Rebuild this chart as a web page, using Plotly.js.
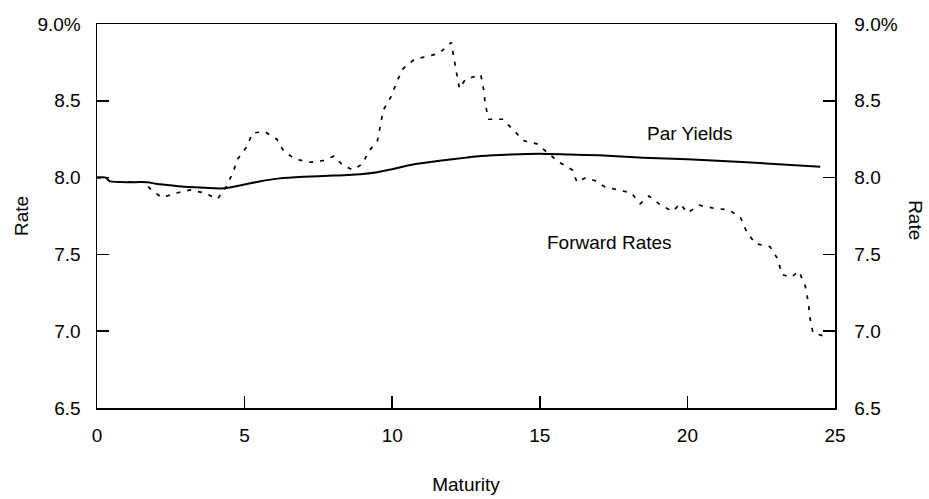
<!DOCTYPE html>
<html>
<head>
<meta charset="utf-8">
<script src="https://cdn.plot.ly/plotly-3.0.1.min.js"></script>
<style>
  html, body { margin: 0; padding: 0; background: #fff; }
  #chart { width: 929px; height: 499px; }
</style>
</head>
<body>
<div id="chart"></div>
<script>
// ---- Data ----
const parMaturity = [0, 0.3, 0.45, 1.7, 2.0, 2.5, 3.0, 3.5, 4.3, 5.0, 5.5, 6.2, 7.0, 8.0, 9.0, 9.5, 10.0, 10.7, 11.6, 12.5, 13.0, 14.0, 15.0, 16.0, 17.0, 18.5, 20.0, 22.0, 24.5];
const parYield    = [8.00, 8.00, 7.975, 7.97, 7.96, 7.95, 7.94, 7.935, 7.93, 7.955, 7.975, 7.995, 8.005, 8.013, 8.024, 8.035, 8.055, 8.085, 8.11, 8.13, 8.14, 8.15, 8.155, 8.15, 8.145, 8.13, 8.12, 8.10, 8.07];

const fwdMaturity = [0, 0.3, 0.45, 1.6, 1.84, 2.2, 2.7, 3.16, 3.64, 4.08, 4.35, 4.6, 4.76, 5.07, 5.27, 5.68, 6.09, 6.33, 6.73, 7.2, 7.65, 8.03, 8.33, 8.67, 9.0, 9.2, 9.5, 9.6, 9.7, 9.97, 10.17, 10.37, 10.75, 11.2, 11.6, 12.0, 12.07, 12.17, 12.28, 12.48, 13.0, 13.1, 13.16, 13.27, 13.74, 14.1, 14.46, 14.9, 15.27, 15.65, 16.1, 16.26, 16.56, 16.87, 17.2, 17.6, 18.1, 18.4, 18.7, 19.1, 19.5, 19.76, 20.0, 20.4, 20.9, 21.4, 21.8, 22.0, 22.3, 22.8, 23.06, 23.2, 23.5, 23.78, 24.0, 24.1, 24.15, 24.25, 24.6];
const fwdRate     = [8.00, 8.00, 7.97, 7.97, 7.92, 7.87, 7.90, 7.92, 7.90, 7.86, 7.93, 8.03, 8.12, 8.20, 8.29, 8.30, 8.25, 8.17, 8.12, 8.10, 8.11, 8.14, 8.08, 8.05, 8.09, 8.17, 8.24, 8.34, 8.44, 8.53, 8.63, 8.71, 8.77, 8.79, 8.81, 8.88, 8.79, 8.69, 8.58, 8.64, 8.67, 8.57, 8.47, 8.38, 8.38, 8.31, 8.24, 8.22, 8.16, 8.10, 8.05, 7.97, 8.00, 7.98, 7.94, 7.92, 7.90, 7.83, 7.88, 7.82, 7.78, 7.83, 7.77, 7.82, 7.80, 7.79, 7.74, 7.65, 7.57, 7.55, 7.47, 7.37, 7.35, 7.39, 7.29, 7.18, 7.09, 6.99, 6.97];

const xTickVals = [0, 5, 10, 15, 20, 25];
const xTickText = ["0", "5", "10", "15", "20", "25"];
const yTickVals = [6.5, 7.0, 7.5, 8.0, 8.5, 9.0];
const yTickText = ["6.5", "7.0", "7.5", "8.0", "8.5", "9.0%"];

const seriesLabels = ["Par Yields", "Forward Rates"];
const xTitle = "Maturity";
const yTitle = "Rate";

// ---- Chart ----
const FONT = "Liberation Sans, Arial, Helvetica, sans-serif";
const FS = 19;
const txt = { family: FONT, size: FS, color: "#000" };

const traces = [
  {
    x: fwdMaturity, y: fwdRate, type: "scatter", mode: "lines",
    name: seriesLabels[1],
    line: { color: "#000", width: 1.7, dash: "4px,7px" },
    xaxis: "x", yaxis: "y", hoverinfo: "skip"
  },
  {
    x: parMaturity, y: parYield, type: "scatter", mode: "lines",
    name: seriesLabels[0],
    line: { color: "#000", width: 2, shape: "spline", smoothing: 0.6 },
    xaxis: "x", yaxis: "y2", hoverinfo: "skip"
  }
];

const yCommon = {
  range: [6.5, 9.0], tickvals: yTickVals, ticktext: yTickText,
  ticks: "inside", ticklen: 12, tickwidth: 1.5, tickcolor: "#000",
  showline: true, linecolor: "#000", linewidth: 1.5,
  showgrid: false, zeroline: false, fixedrange: true,
  tickfont: txt
};

const layout = {
  width: 929, height: 499,
  margin: { l: 97, r: 94, t: 24, b: 91, pad: 0 },
  paper_bgcolor: "#fff", plot_bgcolor: "#fff",
  showlegend: false,
  font: txt,
  xaxis: {
    range: [0, 25], tickvals: xTickVals, ticktext: xTickText,
    ticks: "inside", ticklen: 12, tickwidth: 1.5, tickcolor: "#000",
    showline: true, mirror: true, linecolor: "#000", linewidth: 1.5,
    showgrid: false, zeroline: false, fixedrange: true,
    ticklabelstandoff: 10,
    tickfont: txt,
    title: { text: xTitle, standoff: 32, font: txt },
    automargin: false
  },
  yaxis: Object.assign({}, yCommon, { side: "left", ticklabelstandoff: 11, automargin: false }),
  yaxis2: Object.assign({}, yCommon, { side: "right", overlaying: "y", anchor: "x", ticklabelstandoff: 14, automargin: false }),
  annotations: [
    { xref: "x", yref: "y", x: 20.1, y: 8.29, text: seriesLabels[0], showarrow: false, font: txt },
    { xref: "x", yref: "y", x: 17.35, y: 7.58, text: seriesLabels[1], showarrow: false, font: txt },
    { xref: "paper", yref: "paper", x: -0.103, y: 0.5, xanchor: "center", yanchor: "middle",
      text: yTitle, textangle: -90, showarrow: false, font: txt },
    { xref: "paper", yref: "paper", x: 1.108, y: 0.49, xanchor: "center", yanchor: "middle",
      text: yTitle, textangle: 90, showarrow: false, font: txt }
  ]
};

Plotly.newPlot("chart", traces, layout, { staticPlot: true, displayModeBar: false });
</script>
</body>
</html>
